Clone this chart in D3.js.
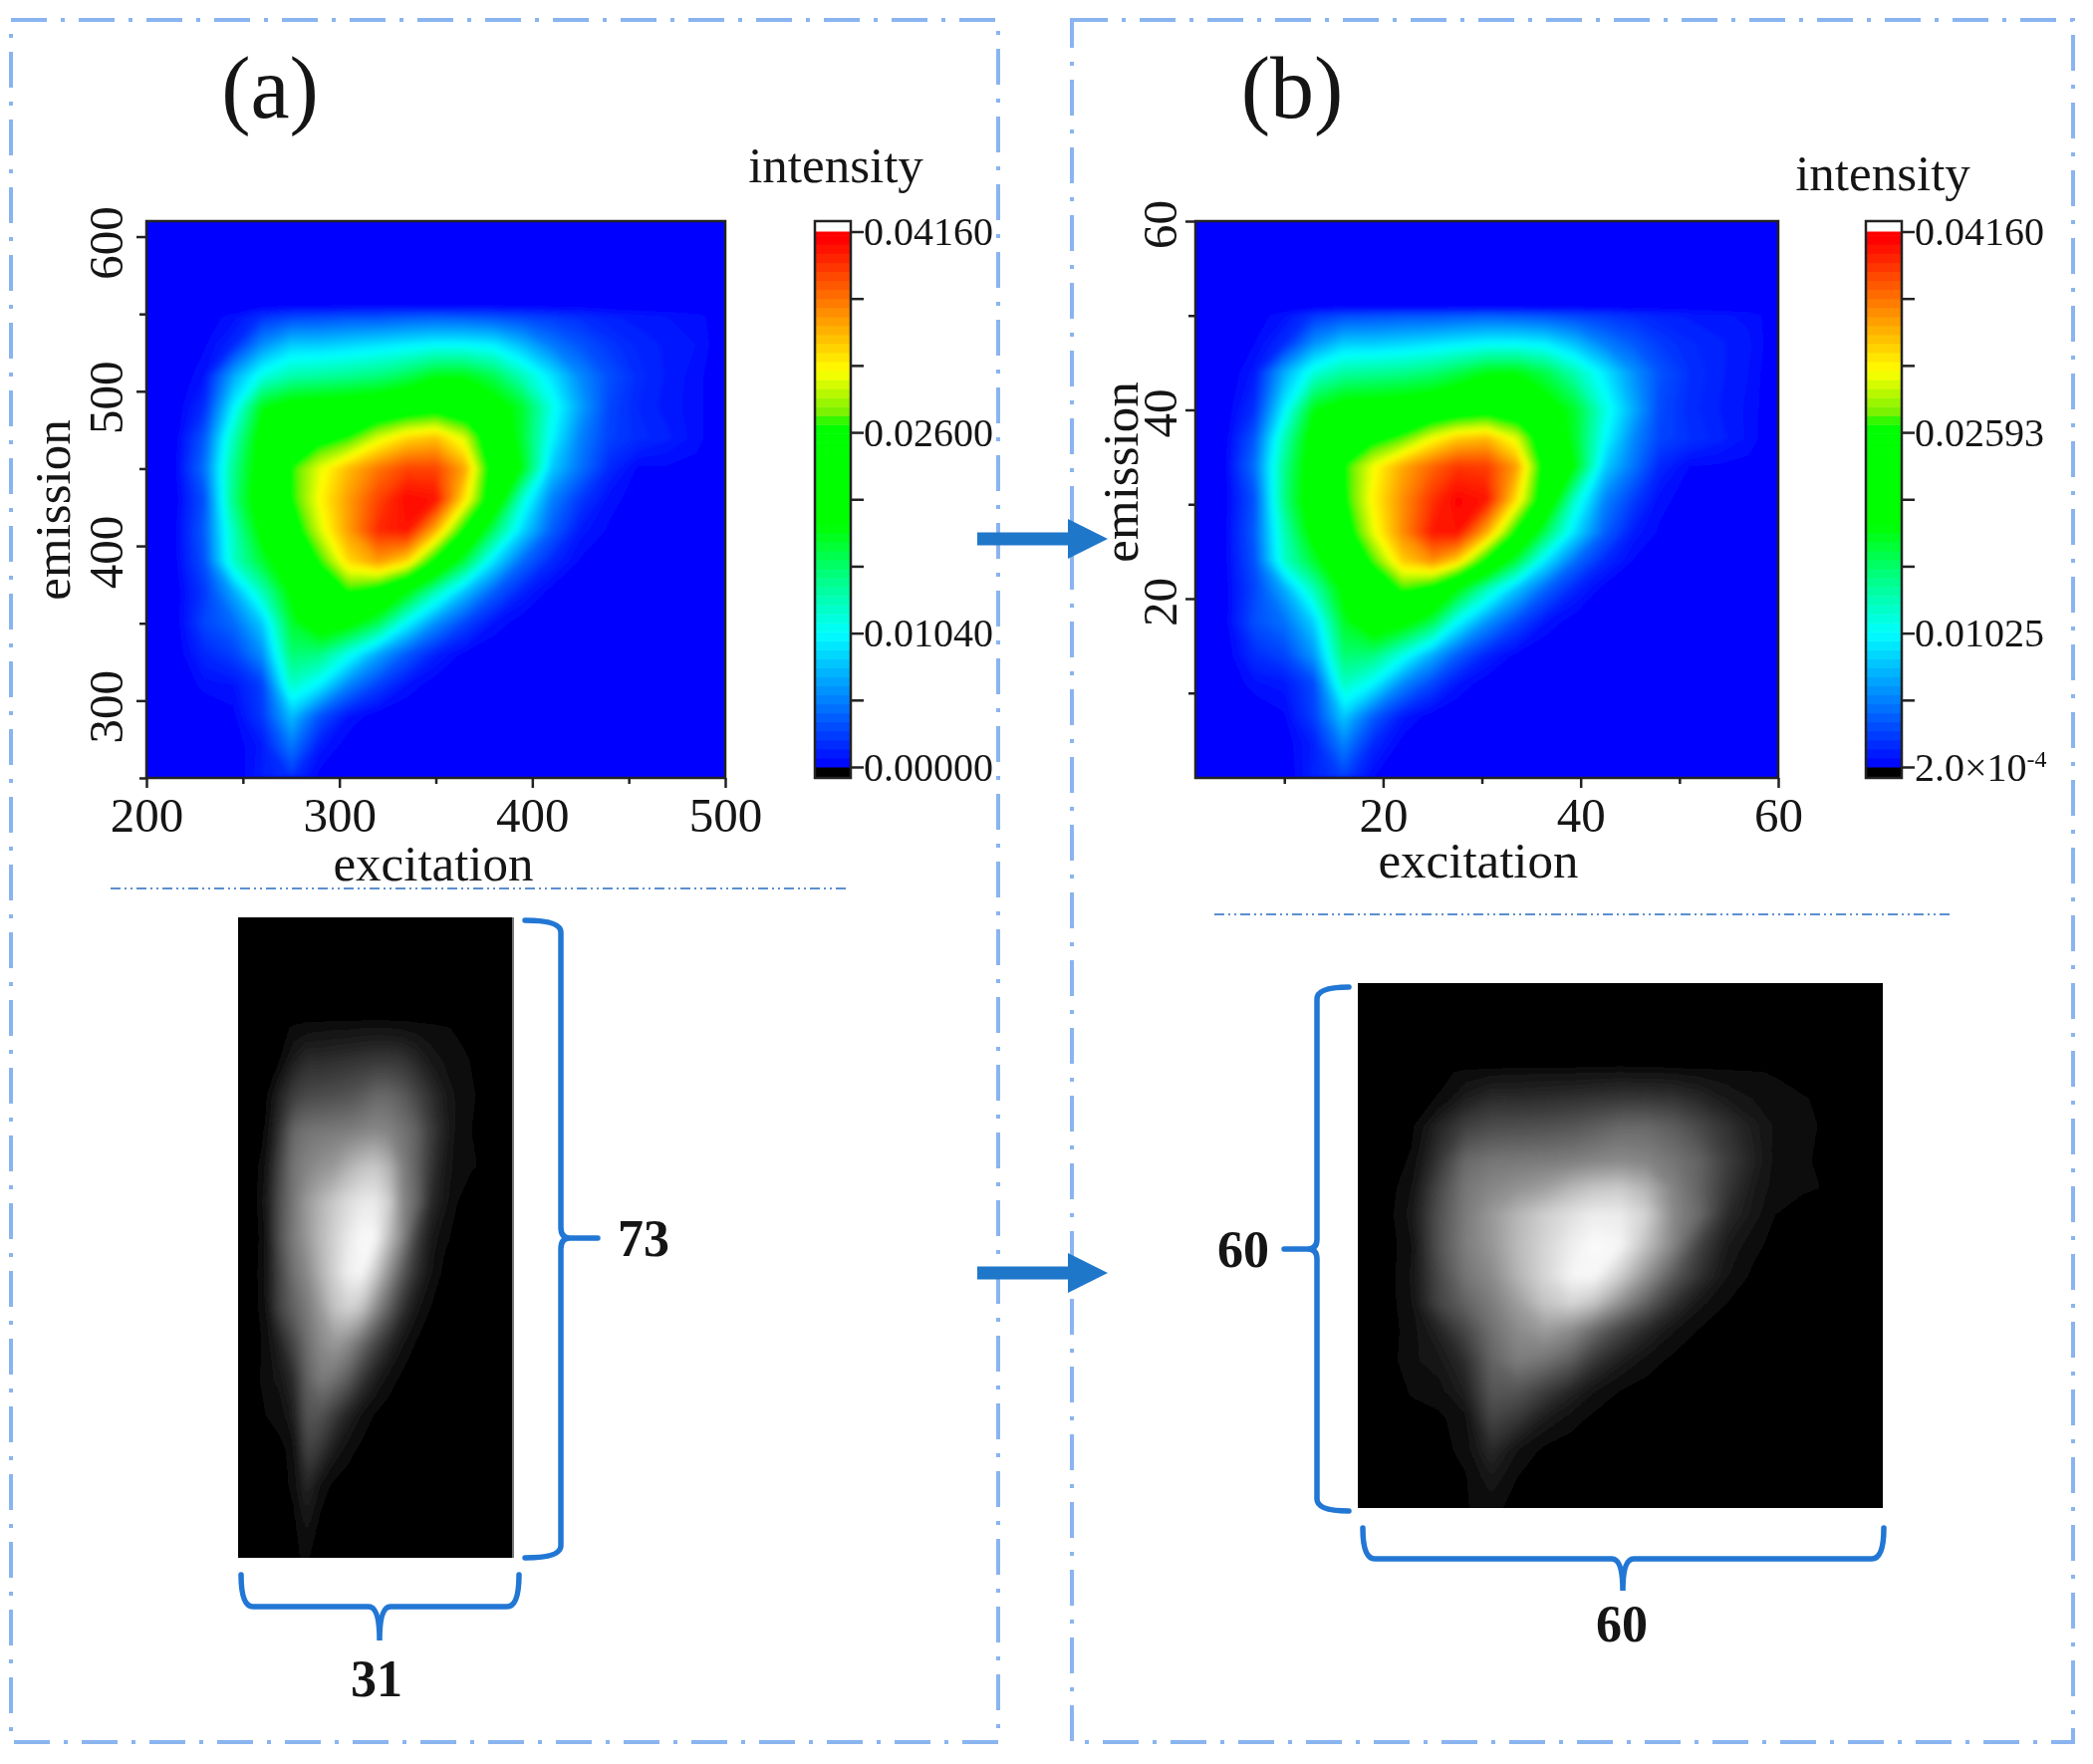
<!DOCTYPE html>
<html>
<head>
<meta charset="utf-8">
<title>Excitation-emission matrices</title>
<script src="https://cdn.jsdelivr.net/npm/d3@7"></script>
<style>
    body { margin: 0; background: white; }
    svg { display: block; filter: blur(0.6px); }
    text { font-family: "Liberation Serif", serif; fill: #151515; }
</style>
</head>
<body>
<div id="chart"></div>
<script>
// Axis values of each grid column / row
const excitationA = [200, 215, 230, 245, 260, 275, 290, 305, 320, 335, 350, 365, 380, 395, 410, 425, 440, 455, 470, 485, 500];
const emissionA = [610, 556, 548, 530, 510, 490, 470, 450, 430, 410, 390, 370, 350, 330, 310, 290, 270, 250];
const excitationB = [1, 4, 7, 10, 13, 16, 19, 22, 25, 27.5, 30.5, 33.5, 36.5, 39.5, 42.5, 45.5, 48, 51, 54, 57, 60];
const emissionB = [60, 51, 50, 47, 44, 40, 37, 34, 30.5, 27, 24, 21, 17.5, 14, 11, 7.5, 4.5, 1];

// Intensity in units of 1e-4, one row per emission value
const intensityA = [
    [0, 0, 0, 0, 0, 0, 0, 0, 0, 0, 0, 0, 0, 0, 0, 0, 0, 0, 0, 0, 0],
    [0, 0, 0, 0, 0, 0, 0, 0, 0, 0, 0, 0, 0, 0, 0, 0, 0, 0, 0, 0, 0],
    [0, 0, 3, 8, 22, 30, 32, 35, 35, 38, 40, 38, 35, 30, 25, 20, 15, 12, 10, 8, 2],
    [0, 0, 5, 18, 60, 85, 85, 90, 95, 100, 105, 105, 100, 78, 52, 36, 24, 17, 13, 10, 1],
    [0, 0, 10, 70, 115, 135, 140, 145, 152, 165, 185, 185, 165, 130, 95, 58, 34, 20, 13, 8, 0],
    [0, 1, 20, 100, 185, 205, 210, 215, 220, 230, 238, 228, 205, 175, 115, 68, 30, 18, 12, 8, 0],
    [0, 2, 38, 130, 205, 230, 250, 265, 300, 325, 335, 300, 225, 175, 105, 55, 28, 20, 15, 8, 0],
    [0, 3, 48, 145, 210, 265, 305, 338, 365, 385, 385, 345, 235, 185, 85, 48, 18, 5, 5, 4, 0],
    [0, 2, 35, 150, 215, 262, 312, 350, 385, 410, 405, 320, 230, 120, 55, 25, 8, 3, 3, 3, 3],
    [0, 4, 40, 130, 200, 240, 300, 350, 395, 405, 340, 250, 160, 90, 40, 12, 5, 2, 3, 3, 3],
    [0, 4, 35, 125, 175, 215, 265, 325, 350, 325, 245, 170, 95, 45, 18, 5, 1, 0, 0, 0, 0],
    [0, 2, 25, 70, 130, 195, 240, 262, 240, 190, 130, 80, 40, 15, 3, 0, 0, 0, 0, 0, 0],
    [0, 2, 30, 45, 85, 175, 215, 200, 165, 104, 60, 30, 10, 2, 0, 0, 0, 0, 0, 0, 0],
    [0, 1, 18, 28, 60, 155, 150, 112, 70, 38, 15, 4, 0, 0, 0, 0, 0, 0, 0, 0, 0],
    [0, 0, 8, 10, 28, 125, 100, 55, 28, 10, 2, 0, 0, 0, 0, 0, 0, 0, 0, 0, 0],
    [0, 0, 0, 4, 25, 80, 35, 10, 2, 0, 0, 0, 0, 0, 0, 0, 0, 0, 0, 0, 0],
    [0, 0, 0, 2, 12, 50, 12, 2, 0, 0, 0, 0, 0, 0, 0, 0, 0, 0, 0, 0, 0],
    [0, 0, 0, 0, 14, 22, 3, 0, 0, 0, 0, 0, 0, 0, 0, 0, 0, 0, 0, 0, 0]
];
const intensityB = [
    [0, 0, 0, 0, 0, 0, 0, 0, 0, 0, 0, 0, 0, 0, 0, 0, 0, 0, 0, 0, 0],
    [0, 0, 0, 0, 0, 0, 0, 0, 0, 0, 0, 0, 0, 0, 0, 0, 0, 0, 0, 0, 0],
    [0, 0, 3, 9, 24, 32, 34, 36, 36, 38, 40, 38, 35, 30, 25, 20, 16, 13, 11, 9, 2],
    [0, 0, 6, 20, 62, 86, 86, 90, 95, 100, 105, 106, 100, 80, 54, 38, 26, 19, 15, 11, 1],
    [0, 0, 12, 72, 118, 138, 142, 146, 154, 167, 185, 186, 166, 132, 96, 60, 36, 22, 15, 10, 0],
    [0, 1, 22, 102, 188, 208, 212, 216, 222, 232, 240, 230, 206, 176, 116, 70, 32, 20, 14, 9, 0],
    [0, 2, 38, 132, 208, 234, 252, 272, 308, 330, 338, 302, 228, 176, 106, 56, 30, 22, 16, 9, 0],
    [0, 3, 48, 146, 214, 262, 308, 345, 372, 390, 388, 348, 238, 186, 86, 48, 18, 6, 5, 4, 0],
    [0, 2, 36, 150, 218, 258, 314, 355, 392, 412, 404, 322, 230, 122, 56, 26, 8, 3, 3, 2, 2],
    [0, 4, 40, 132, 204, 240, 304, 356, 402, 406, 342, 252, 162, 92, 40, 12, 5, 3, 3, 0, 0],
    [0, 4, 36, 125, 176, 218, 270, 330, 355, 328, 248, 172, 96, 46, 18, 5, 1, 0, 0, 0, 0],
    [0, 3, 30, 72, 132, 198, 242, 268, 244, 192, 132, 82, 42, 16, 3, 0, 0, 0, 0, 0, 0],
    [0, 3, 34, 48, 88, 178, 218, 202, 166, 106, 62, 32, 10, 2, 0, 0, 0, 0, 0, 0, 0],
    [0, 1, 20, 30, 64, 156, 152, 114, 72, 40, 16, 4, 0, 0, 0, 0, 0, 0, 0, 0, 0],
    [0, 0, 9, 12, 32, 128, 104, 58, 30, 11, 2, 0, 0, 0, 0, 0, 0, 0, 0, 0, 0],
    [0, 0, 0, 5, 28, 84, 40, 12, 2, 0, 0, 0, 0, 0, 0, 0, 0, 0, 0, 0, 0],
    [0, 0, 0, 2, 15, 55, 18, 3, 0, 0, 0, 0, 0, 0, 0, 0, 0, 0, 0, 0, 0],
    [0, 0, 0, 0, 16, 28, 6, 0, 0, 0, 0, 0, 0, 0, 0, 0, 0, 0, 0, 0, 0]
];

// Colour ramp of the colour bars
const rampValues = [0, 104, 146, 188, 268, 271, 308, 359, 410];
const rampColors = ["#0000ff", "#00ffff", "#00ff88", "#00ff00", "#00ff00", "#66f000", "#ffff00", "#ff8000", "#ff0000"];

// Axis ticks
const xTicksA = [200, 250, 300, 350, 400, 450, 500];
const yTicksA = [250, 300, 350, 400, 450, 500, 550, 600];
const xLabelsA = [200, 300, 400, 500];
const yLabelsA = [300, 400, 500, 600];
const xTicksB = [10, 20, 30, 40, 50, 60];
const yTicksB = [10, 20, 30, 40, 50, 60];
const xLabelsB = [20, 40, 60];
const yLabelsB = [20, 40, 60];

// Colour bar ticks, same units as the intensity grids
const barTicks = [0, 52, 104, 156, 208, 260, 312, 364, 416];
const barLabelsA = { 0: "0.00000", 104: "0.01040", 260: "0.02600", 416: "0.04160" };
const barLabelsB = { 0: "2.0×10", 104: "0.01025", 260: "0.02593", 416: "0.04160" };

const svg = d3.select("#chart").append("svg")
    .attr("width", 2101)
    .attr("height", 1771);

const defs = svg.append("defs");
function blurFilter(id, amount) {
    defs.append("filter").attr("id", id)
        .attr("x", "-5%").attr("y", "-5%").attr("width", "110%").attr("height", "110%")
        .append("feGaussianBlur").attr("stdDeviation", amount);
}
blurFilter("soft", 2.5);
blurFilter("softGray", 3.5);

const rampColor = d3.scaleLinear().domain(rampValues).range(rampColors).clamp(true);
const grayColor = d3.scalePow().exponent(1.1).domain([0, 416]).range(["#000000", "#ffffff"]).clamp(true);

// Filled contours of a grid, mapped through the axis scales
function drawField(parent, id, grid, xs, ys, xScale, yScale, color, base, thresholds, blur) {
    const [x0, x1] = xScale.range();
    const [y0, y1] = yScale.range();
    defs.append("clipPath").attr("id", id).append("rect")
        .attr("x", x0).attr("y", y1).attr("width", x1 - x0).attr("height", y0 - y1);

    const xAt = d3.scaleLinear().domain(xs.map((d, i) => i + 0.5)).range(xs).clamp(true);
    const yAt = d3.scaleLinear().domain(ys.map((d, i) => i + 0.5)).range(ys).clamp(true);
    const path = d3.geoPath(d3.geoTransform({
        point(x, y) { this.stream.point(xScale(xAt(x)), yScale(yAt(y))); }
    }));
    const contours = d3.contours()
        .size([xs.length, ys.length])
        .thresholds(thresholds)(grid.flat());

    const g = parent.append("g").attr("clip-path", `url(#${id})`);
    g.append("rect")
        .attr("x", x0).attr("y", y1).attr("width", x1 - x0).attr("height", y0 - y1)
        .attr("fill", base);
    g.append("g").attr("filter", `url(#${blur})`)
        .selectAll("path")
        .data(contours)
        .join("path")
        .attr("d", path)
        .attr("fill", d => color(d.value));
}

function drawAxes(parent, xScale, yScale, o) {
    const [x0, x1] = xScale.range();
    const [y0, y1] = yScale.range();

    const gx = parent.append("g")
        .attr("transform", `translate(0,${y0})`)
        .call(d3.axisBottom(xScale).tickValues(o.xTicks).tickSize(8).tickSizeOuter(0)
            .tickFormat(d => o.xLabels.includes(d) ? d : ""));
    gx.selectAll("text").attr("font-size", 49).attr("y", 0).attr("dy", 54);
    gx.selectAll("line").attr("stroke", "#222").attr("stroke-width", 2.5)
        .attr("y2", d => o.xLabels.includes(d) ? 10 : 6);
    gx.select(".domain").attr("stroke", "none");

    const gy = parent.append("g")
        .attr("transform", `translate(${x0},0)`)
        .call(d3.axisLeft(yScale).tickValues(o.yTicks).tickSize(8).tickSizeOuter(0)
            .tickFormat(d => o.yLabels.includes(d) ? d : ""));
    gy.selectAll("text")
        .attr("font-size", 49)
        .attr("x", 0).attr("y", 0).attr("dy", 0)
        .attr("text-anchor", "middle")
        .attr("transform", `translate(${o.yLabelX},${o.yLabelY}) rotate(-90)`);
    gy.selectAll("line").attr("stroke", "#222").attr("stroke-width", 2.5)
        .attr("x2", d => o.yLabels.includes(d) ? -10 : -7);
    gy.select(".domain").attr("stroke", "none");

    // plot frame
    parent.append("rect")
        .attr("x", x0).attr("y", y1).attr("width", x1 - x0).attr("height", y0 - y1)
        .attr("fill", "none").attr("stroke", "#222").attr("stroke-width", 2.5);

    parent.append("text").attr("x", o.xTitle[0]).attr("y", o.xTitle[1])
        .attr("text-anchor", "middle").attr("font-size", 51).text("excitation");
    parent.append("text")
        .attr("transform", `translate(${o.yTitle[0]},${o.yTitle[1]}) rotate(-90)`)
        .attr("text-anchor", "middle").attr("font-size", 51).text("emission");
}

function drawColorBar(parent, left, right, labels, title) {
    const barY = d3.scaleLinear().domain([0, 416]).range([770, 232.5]);
    const bands = d3.range(0, 416, 7);

    parent.append("rect").attr("x", left).attr("y", 222).attr("width", right - left).attr("height", 11).attr("fill", "white");
    parent.append("rect").attr("x", left).attr("y", 770).attr("width", right - left).attr("height", 11).attr("fill", "black");
    parent.selectAll(".band")
        .data(bands)
        .join("rect")
        .attr("class", "band")
        .attr("x", left)
        .attr("width", right - left)
        .attr("y", d => barY(Math.min(d + 7, 416)))
        .attr("height", d => barY(d) - barY(Math.min(d + 7, 416)) + 0.5)
        .attr("fill", d => rampColor(d + 3.5));
    parent.append("rect")
        .attr("x", left).attr("y", 222).attr("width", right - left).attr("height", 559)
        .attr("fill", "none").attr("stroke", "#222").attr("stroke-width", 2.5);

    const gb = parent.append("g")
        .attr("transform", `translate(${right},0)`)
        .call(d3.axisRight(barY).tickValues(barTicks).tickSize(13).tickFormat(d => labels[d] || ""));
    gb.select(".domain").attr("stroke", "none");
    gb.selectAll("line").attr("stroke", "#222").attr("stroke-width", 2.5);
    gb.selectAll("text").attr("font-size", 40).attr("x", 13).attr("dy", "0.33em");
    // exponent of the lowest label in panel (b)
    gb.selectAll("text").filter(d => d === 0 && labels[0].endsWith("×10"))
        .append("tspan").attr("font-size", 24).attr("dy", -14).text("-4");

    parent.append("text").attr("x", title[0]).attr("y", title[1])
        .attr("text-anchor", "middle").attr("font-size", 51).text("intensity");
}

// Curly-ish bracket: two arms, a spine and a nib
function drawBrace(parent, pts) {
    parent.append("path")
        .attr("d", pts)
        .attr("fill", "none")
        .attr("stroke", "#2277d4")
        .attr("stroke-width", 5.5)
        .attr("stroke-linecap", "round");
}

function drawArrow(parent, x0, x1, y) {
    parent.append("path")
        .attr("d", `M${x0},${y - 6.5}H${x1 - 40}V${y - 20}L${x1},${y}L${x1 - 40},${y + 20}V${y + 6.5}H${x0}Z`)
        .attr("fill", "#1f77c9");
}

function frame(parent, x0, x1) {
    parent.append("rect")
        .attr("x", x0).attr("y", 20).attr("width", x1 - x0).attr("height", 1729)
        .attr("fill", "none")
        .attr("stroke", "#8ab4f0")
        .attr("stroke-width", 4)
        .attr("stroke-dasharray", "36 14 4 14");
}

function separator(parent, x0, x1, y) {
    parent.append("line")
        .attr("x1", x0).attr("x2", x1).attr("y1", y).attr("y2", y)
        .attr("stroke", "#5b8fd0")
        .attr("stroke-width", 2)
        .attr("stroke-dasharray", "10 4 2 4 2 4");
}

function boldLabel(parent, x, y, t) {
    parent.append("text").attr("x", x).attr("y", y)
        .attr("text-anchor", "middle").attr("dy", "0.34em")
        .attr("font-size", 52).attr("font-weight", "bold").text(t);
}

const heatThresholds = [2].concat(d3.range(6, 416, 4));
const grayThresholds = d3.range(2, 416, 4);

// Panel (a)
const a = svg.append("g");
frame(a, 11, 1002);
a.append("text").attr("x", 271).attr("y", 118).attr("text-anchor", "middle").attr("font-size", 88).text("(a)");

const xA = d3.scaleLinear().domain([200, 500]).range([147, 728]);
const yA = d3.scaleLinear().domain([250, 610]).range([781, 222]);
drawField(a, "heatA", intensityA, excitationA, emissionA, xA, yA, rampColor, "#0000ff", heatThresholds, "soft");
drawAxes(a, xA, yA, {
    xTicks: xTicksA, yTicks: yTicksA, xLabels: xLabelsA, yLabels: yLabelsA,
    yLabelX: -24, yLabelY: 6, xTitle: [435, 884], yTitle: [70, 512]
});
drawColorBar(a, 818, 854, barLabelsA, [839, 183]);
separator(a, 111, 853, 892);

const xGrayA = d3.scaleLinear().domain([200, 500]).range([239, 515]);
const yGrayA = d3.scaleLinear().domain([250, 610]).range([1564, 921]);
drawField(a, "grayA", intensityA, excitationA, emissionA, xGrayA, yGrayA, grayColor, "#000000", grayThresholds, "softGray");
a.append("line").attr("x1", 515).attr("x2", 515).attr("y1", 921).attr("y2", 1564).attr("stroke", "#777").attr("stroke-width", 2);

drawBrace(a, "M527,924 Q563,924 563,936 V1232 Q563,1243 572,1243 H600 M572,1243 Q563,1243 563,1254 V1552 Q563,1564 527,1564");
drawBrace(a, "M242,1581 Q242,1613 254,1613 H370 Q381,1613 381,1647 Q381,1613 392,1613 H509 Q521,1613 521,1581");
boldLabel(a, 646, 1243, "73");
boldLabel(a, 378, 1685, "31");

// Panel (b)
const b = svg.append("g");
frame(b, 1076, 2081);
b.append("text").attr("x", 1297).attr("y", 118).attr("text-anchor", "middle").attr("font-size", 88).text("(b)");

const xB = d3.scaleLinear().domain([1, 60]).range([1200, 1785]);
const yB = d3.scaleLinear().domain([1, 60]).range([781, 222]);
drawField(b, "heatB", intensityB, excitationB, emissionB, xB, yB, rampColor, "#0000ff", heatThresholds, "soft");
drawAxes(b, xB, yB, {
    xTicks: xTicksB, yTicks: yTicksB, xLabels: xLabelsB, yLabels: yLabelsB,
    yLabelX: -19, yLabelY: 3, xTitle: [1484, 881], yTitle: [1142, 474]
});
drawColorBar(b, 1873, 1909, barLabelsB, [1890, 191]);
separator(b, 1219, 1960, 918);

const xGrayB = d3.scaleLinear().domain([1, 60]).range([1363, 1890]);
const yGrayB = d3.scaleLinear().domain([1, 60]).range([1514, 987]);
drawField(b, "grayB", intensityB, excitationB, emissionB, xGrayB, yGrayB, grayColor, "#000000", grayThresholds, "softGray");

drawBrace(b, "M1354,991 Q1322,991 1322,1003 V1244 Q1322,1254 1313,1254 H1289 M1313,1254 Q1322,1254 1322,1264 V1505 Q1322,1517 1354,1517");
drawBrace(b, "M1368,1534 Q1368,1565 1380,1565 H1618 Q1629,1565 1629,1597 Q1629,1565 1640,1565 H1879 Q1891,1565 1891,1534");
boldLabel(b, 1248, 1254, "60");
boldLabel(b, 1628, 1630, "60");

// Arrows between the panels
drawArrow(svg, 981, 1112, 541);
drawArrow(svg, 981, 1112, 1278);
</script>
</body>
</html>
